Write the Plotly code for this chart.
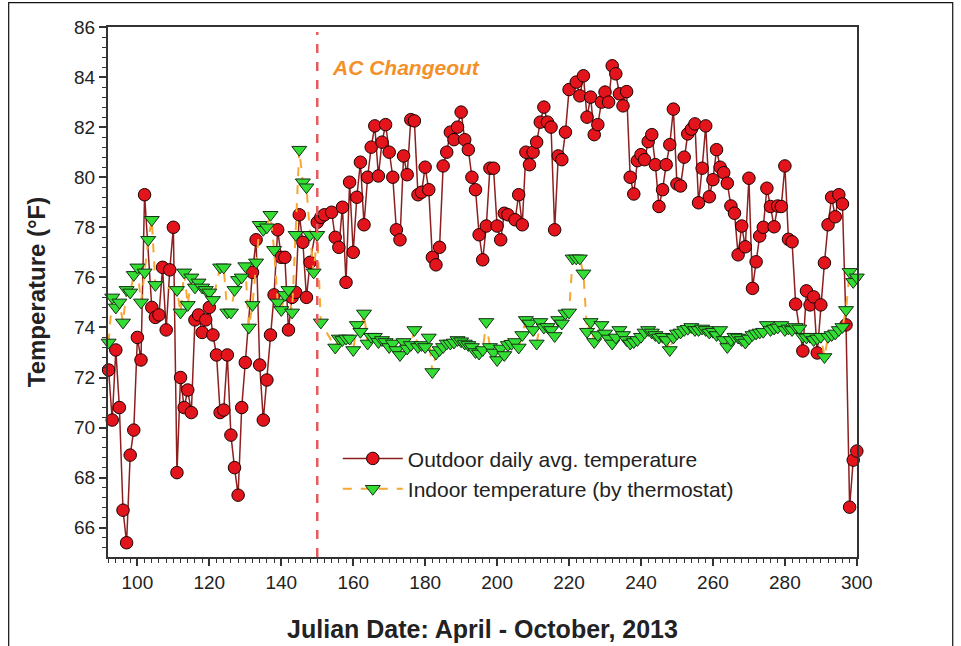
import plotly.graph_objects as go

# Outdoor daily average temperature (Julian day, deg F)
outdoor_day = [92, 93, 94, 95, 96, 97, 98, 99, 100, 101, 102, 104, 105, 106, 107, 108, 109, 110,
               111, 112, 113, 114, 115, 116, 117, 118, 119, 120, 121, 122, 123, 124, 125, 126, 127,
               128, 129, 130, 132, 133, 134, 135, 136, 137, 138, 139, 140, 141, 142, 143, 144, 145,
               146, 147, 148, 150, 151, 152, 154, 155, 156, 157, 158, 159, 160, 161, 162, 163, 164,
               165, 166, 167, 168, 169, 170, 171, 172, 173, 174, 175, 176, 177, 178, 179, 180, 181,
               182, 183, 184, 185, 186, 187, 188, 189, 190, 191, 192, 193, 194, 195, 196, 197, 198,
               199, 200, 201, 202, 203, 205, 206, 207, 208, 209, 210, 211, 212, 213, 214, 215, 216,
               217, 218, 219, 220, 222, 223, 224, 225, 226, 227, 228, 229, 230, 231, 232, 233, 234,
               235, 236, 237, 238, 239, 240, 241, 242, 243, 244, 245, 246, 247, 248, 249, 250, 251,
               252, 253, 254, 255, 256, 257, 258, 259, 260, 261, 262, 263, 264, 265, 266, 267, 268,
               269, 270, 271, 272, 273, 274, 275, 276, 277, 278, 279, 280, 281, 282, 283, 285, 286,
               287, 288, 289, 290, 291, 292, 293, 294, 295, 296, 297, 298, 299, 300]
outdoor_temp = [72.3, 70.3, 73.1, 70.8, 66.7, 65.4, 68.9, 69.9, 73.6, 72.7, 79.3, 74.8, 74.4, 74.5,
                76.4, 73.9, 76.3, 78.0, 68.2, 72.0, 70.8, 71.5, 70.6, 74.3, 74.5, 73.8, 74.3, 74.8,
                73.7, 72.9, 70.6, 70.7, 72.9, 69.7, 68.4, 67.3, 70.8, 72.6, 76.2, 77.5, 72.5, 70.3,
                71.9, 73.7, 75.3, 77.9, 76.8, 76.8, 73.9, 75.2, 75.4, 78.5, 77.4, 75.2, 76.6, 78.2,
                78.4, 78.5, 78.6, 77.6, 77.2, 78.8, 75.8, 79.8, 77.0, 79.2, 80.6, 78.1, 80.0, 81.2,
                82.05, 80.05, 81.4, 82.1, 81.0, 80.0, 77.9, 77.5, 80.85, 80.1, 82.3, 82.25, 79.3,
                79.4, 80.4, 79.5, 76.8, 76.5, 77.2, 80.45, 81.0, 81.8, 81.5, 82.0, 82.6, 81.5, 81.1,
                80.0, 79.5, 77.7, 76.7, 78.05, 80.36, 80.36, 78.05, 77.5, 78.56, 78.5, 78.3, 79.3,
                78.1, 81.0, 80.5, 81.0, 81.4, 82.2, 82.8, 82.2, 82.0, 77.9, 80.85, 80.7, 81.8, 83.5,
                83.8, 83.25, 84.05, 82.4, 83.2, 81.7, 82.1, 83.0, 83.4, 83.0, 84.45, 84.13, 83.33,
                82.85, 83.42, 80.0, 79.33, 80.66, 80.9, 80.7, 81.42, 81.7, 80.5, 78.83, 79.5, 80.5,
                81.3, 82.72, 79.73, 79.65, 80.8, 81.73, 81.92, 82.13, 78.98, 80.36, 82.05, 79.22,
                79.9, 81.1, 80.4, 80.18, 79.76, 78.85, 78.56, 76.9, 78.05, 77.22, 79.96, 75.56,
                76.62, 77.65, 78.0, 79.56, 78.83, 78.02, 78.85, 78.83, 80.45, 77.52, 77.42, 74.93,
                73.06, 75.46, 74.9, 75.22, 72.98, 74.9, 76.58, 78.1, 79.2, 78.42, 79.3, 78.93, 74.1,
                66.82, 68.7, 69.06]

# Indoor temperature by thermostat (Julian day, deg F)
indoor_day = [92, 93, 94, 95, 96, 97, 98, 99, 100, 101, 102, 103, 104, 105, 111, 112, 113, 114, 115,
              116, 117, 118, 119, 120, 121, 123, 124, 125, 126, 127, 128, 129, 130, 131, 132, 133,
              134, 135, 136, 137, 138, 139, 140, 141, 142, 143, 144, 145, 146, 147, 148, 149, 150,
              151, 155, 156, 157, 158, 159, 160, 161, 162, 163, 164, 165, 166, 167, 168, 169, 170,
              171, 172, 173, 174, 175, 176, 177, 178, 179, 180, 181, 182, 183, 184, 185, 186, 187,
              188, 189, 190, 191, 192, 193, 194, 195, 196, 197, 198, 199, 200, 201, 202, 203, 204,
              205, 206, 207, 208, 209, 210, 211, 212, 213, 214, 215, 216, 217, 218, 219, 220, 221,
              222, 223, 224, 225, 226, 227, 228, 229, 230, 231, 232, 233, 234, 235, 236, 237, 238,
              239, 240, 241, 242, 243, 244, 245, 246, 247, 248, 249, 250, 251, 252, 253, 254, 255,
              256, 257, 258, 259, 260, 261, 262, 263, 264, 265, 266, 267, 268, 269, 270, 271, 272,
              273, 274, 275, 276, 277, 278, 279, 280, 281, 282, 283, 284, 285, 286, 287, 288, 289,
              290, 291, 292, 293, 294, 295, 296, 297, 298, 299, 300]
indoor_temp = [73.4, 75.2, 74.8, 75.0, 74.2, 75.5, 75.4, 76.1, 76.4, 75.0, 76.2, 77.5, 78.3, 75.7,
               75.5, 74.6, 76.2, 74.9, 76.0, 75.6, 75.8, 75.6, 75.5, 75.4, 75.1, 76.4, 76.4, 74.6,
               74.6, 75.5, 75.9, 76.0, 76.45, 74.0, 74.9, 76.6, 78.1, 77.9, 78.0, 78.5, 77.1, 75.0,
               74.7, 75.3, 75.5, 74.6, 77.7, 81.1, 79.8, 79.6, 77.7, 76.2, 77.7, 74.2, 73.2, 73.56,
               73.5, 73.56, 73.56, 73.1, 74.1, 73.83, 74.56, 73.36, 73.63, 73.63, 73.42, 73.5,
               73.42, 73.22, 73.36, 73.1, 72.9, 73.42, 73.16, 73.3, 73.9, 73.22, 73.3, 73.22, 73.6,
               72.22, 72.96, 73.1, 73.22, 73.36, 73.36, 73.4, 73.5, 73.45, 73.36, 73.3, 73.22,
               73.02, 72.96, 73.1, 74.22, 73.22, 73.0, 72.7, 73.16, 72.9, 73.3, 73.35, 73.42, 73.2,
               73.7, 74.3, 74.16, 73.9, 73.36, 74.22, 74.0, 74.02, 73.9, 73.66, 74.3, 74.16, 74.56,
               74.6, 76.76, 76.76, 76.76, 76.16, 73.83, 74.22, 73.42, 73.7, 74.1, 73.76, 73.56,
               73.36, 73.6, 73.9, 73.7, 73.5, 73.36, 73.42, 73.5, 73.63, 73.8, 73.9, 73.8, 73.7,
               73.6, 73.63, 73.5, 73.1, 73.6, 73.76, 73.8, 73.9, 73.95, 74.02, 73.9, 73.9, 73.96,
               73.9, 73.8, 73.83, 73.7, 73.9, 73.5, 73.22, 73.5, 73.63, 73.6, 73.5, 73.4, 73.56,
               73.7, 73.76, 73.8, 73.83, 74.1, 73.9, 73.96, 74.0, 74.1, 73.9, 73.96, 73.9, 74.02,
               73.96, 73.63, 73.6, 73.63, 73.5, 73.56, 73.63, 72.82, 73.63, 73.7, 73.76, 73.9,
               74.02, 74.7, 76.22, 75.82, 76.0]

changeout_day = [150]
x_ticks = [100, 120, 140, 160, 180, 200, 220, 240, 260, 280, 300]
y_ticks = [66, 68, 70, 72, 74, 76, 78, 80, 82, 84, 86]

FONT = "Liberation Sans, Arial, sans-serif"

fig = go.Figure()

fig.add_trace(go.Scatter(
    x=outdoor_day, y=outdoor_temp, mode="lines+markers",
    name="Outdoor daily avg. temperature",
    line=dict(color="#8e1f1f", width=1.5),
    marker=dict(symbol="circle", size=12.5, color="#e3141b",
                line=dict(color="#1a0000", width=1)),
    cliponaxis=False,
))

fig.add_trace(go.Scatter(
    x=indoor_day, y=indoor_temp, mode="lines+markers",
    name="Indoor temperature (by thermostat)",
    line=dict(color="#f5a833", width=2, dash="dash"),
    marker=dict(symbol="triangle-down", size=13, color="#33dd33",
                line=dict(color="#153015", width=1)),
    cliponaxis=False,
))

fig.add_shape(type="line", xref="x", yref="y",
              x0=changeout_day[0], x1=changeout_day[0], y0=64.83, y1=85.8,
              line=dict(color="#e65a5e", width=2.5, dash="dash"))

fig.add_annotation(x=changeout_day[0] + 3.6, y=84.37, xref="x", yref="y",
                   text="<b><i>AC Changeout</i></b>", showarrow=False,
                   xanchor="left", yanchor="middle",
                   font=dict(family=FONT, size=21, color="#f3902a"))

# Outer frame of the picture
fig.add_shape(type="rect", xref="paper", yref="paper",
              x0=-0.1326, x1=1.1278, y0=-0.2, y1=1.0459,
              line=dict(color="#111111", width=1.2), fillcolor="rgba(0,0,0,0)",
              layer="below")

axis_common = dict(
    showline=True, linecolor="#333333", linewidth=2, mirror=True,
    ticks="outside", ticklen=7, tickcolor="#333333", tickwidth=1.5,
    showgrid=False, zeroline=False,
    tickfont=dict(family=FONT, size=19, color="#222222"),
)

fig.update_xaxes(
    range=[91.83, 300.05], tickvals=x_ticks, automargin=False,
    minor=dict(dtick=2, tick0=0, ticks="outside", ticklen=4, tickcolor="#333333", tickwidth=1),
    title=dict(text="<b>Julian Date: April - October, 2013</b>",
               font=dict(family=FONT, size=25, color="#222222"), standoff=29),
    **axis_common,
)
fig.update_yaxes(
    range=[64.83, 86.0], tickvals=y_ticks,
    minor=dict(dtick=0.4, tick0=0, ticks="outside", ticklen=4, tickcolor="#333333", tickwidth=1),
    title=dict(text="<b>Temperature (°F)</b>",
               font=dict(family=FONT, size=24, color="#222222"), standoff=22),
    **axis_common,
)

fig.update_layout(
    width=961, height=646,
    margin=dict(l=108, r=104, t=27, b=89),
    paper_bgcolor="white", plot_bgcolor="white",
    showlegend=True,
    legend=dict(x=0.3068, y=0.224, xanchor="left", yanchor="top",
                bgcolor="rgba(0,0,0,0)", itemwidth=60,
                font=dict(family=FONT, size=21, color="#222222")),
)

fig.write_html("out.html")
